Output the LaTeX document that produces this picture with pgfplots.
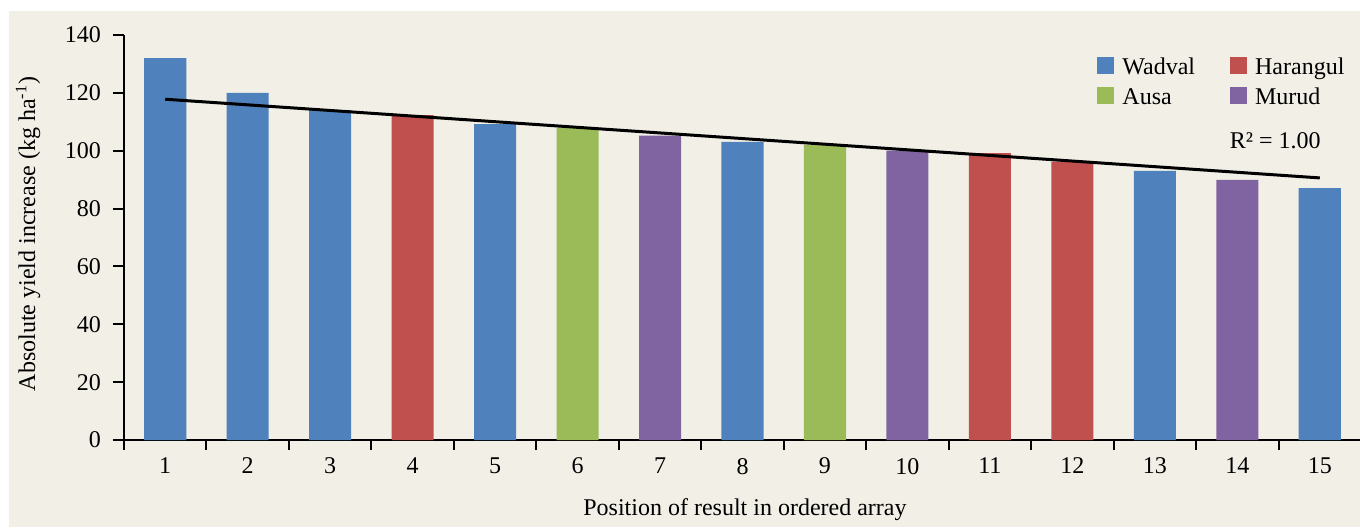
\documentclass[border=0pt]{standalone}
\usepackage{fontspec}
\setmainfont{Liberation Serif}
\usepackage{pgfplots}
\pgfplotsset{compat=1.18}
\definecolor{bg}{HTML}{F2EFE6}
\definecolor{cblue}{HTML}{4F81BD}
\definecolor{cred}{HTML}{C0504D}
\definecolor{cgreen}{HTML}{9BBB59}
\definecolor{cpurple}{HTML}{8064A2}
\begin{document}
\begin{tikzpicture}[font=\fontsize{12}{14.4}\selectfont]
\path[use as bounding box, fill=white] (0,0) rectangle (680pt,263.5pt);
\fill[bg] (4.5pt,0) rectangle (680pt,258pt);
\begin{axis}[
  at={(62pt,43.5pt)}, anchor=south west,
  width=618.5pt, height=202.5pt, scale only axis,
  xmin=0.5, xmax=15.5, ymin=0, ymax=140,
  axis lines*=left,
  axis line style={line width=1pt},
  every tick/.style={black, line width=1pt},
  tick align=outside,
  major tick length=5.5pt, minor tick length=5pt,
  ytick={0,20,...,140},
  xtick={1,...,15},
  minor xtick={0.5,1.5,...,15.5},
  major x tick style={draw=none},
  /pgf/number format/assume math mode=true,
  tick label style={font=\fontsize{12}{14.4}\selectfont},
  yticklabel style={xshift=-2.5pt},
  xlabel={Position of result in ordered array},
  ylabel={Absolute yield increase (kg ha\textsuperscript{-1})},
  xlabel style={at={(axis description cs:0.502,-0.1852)}, anchor=base},
  ylabel style={at={(axis description cs:-0.0776,0.5086)}, anchor=center},
  ybar, bar width=0.51, bar shift=0pt,
  legend columns=2,
  legend image code/.code={\fill[#1] (0pt,0pt) rectangle (8.5pt,8.5pt);},
  legend style={at={(axis description cs:0.7866,0.9457)}, anchor=north west,
    draw=none, fill=none, inner sep=0pt, column sep=4pt, row sep=4.9pt,
    nodes={inner sep=0pt}, cells={anchor=base west},
    /tikz/every even column/.append style={column sep=17.5pt},
    font=\fontsize{12}{14.4}\selectfont},
]
\addplot[fill=cblue, draw=none] coordinates {(1,132) (2,120) (3,114) (5,109.2) (8,103.1) (13,93) (15,87.1)};
\addlegendentry{Wadval}
\addplot[fill=cred, draw=none] coordinates {(4,112.3) (11,99.2) (12,96.2)};
\addlegendentry{Harangul}
\addplot[fill=cgreen, draw=none] coordinates {(6,108) (9,102)};
\addlegendentry{Ausa}
\addplot[fill=cpurple, draw=none] coordinates {(7,105.2) (10,100) (14,89.9)};
\addlegendentry{Murud}
\addplot[sharp plot, black, line width=1.5pt, forget plot] coordinates {(1,117.8) (15,90.6)};
\node[anchor=base west, inner sep=0pt] at (axis cs:13.906,100.9) {R² = 1.00};
\end{axis}
\end{tikzpicture}
\end{document}
